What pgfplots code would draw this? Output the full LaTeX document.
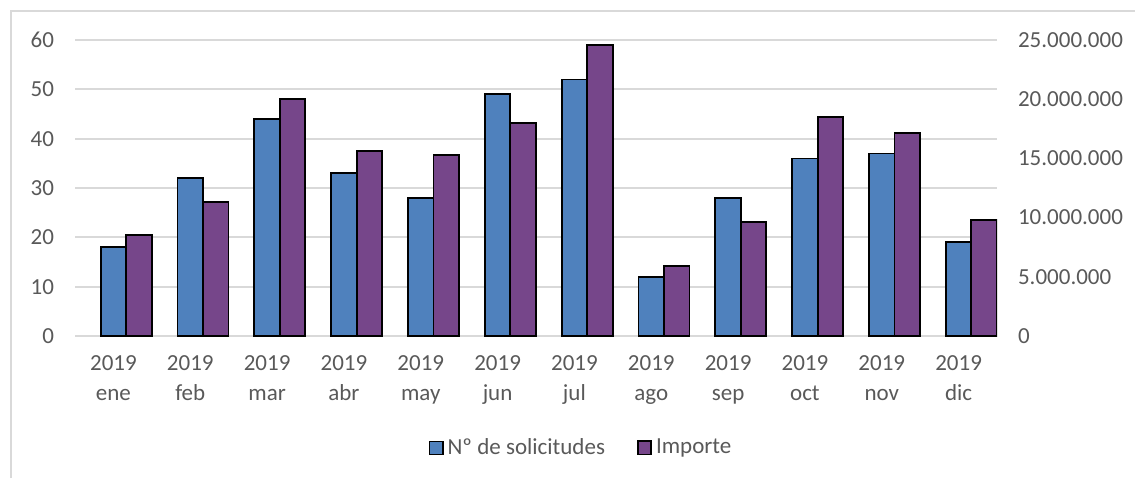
\documentclass[border=0pt]{standalone}
\usepackage{pgfplots}
\pgfplotsset{compat=1.18}
\usepackage{fontspec}
\setmainfont{Carlito}

\definecolor{txt}{HTML}{595959}
\definecolor{gridc}{HTML}{D9D9D9}
\definecolor{solblue}{HTML}{4F81BD}
\definecolor{imppurple}{HTML}{76468A}

\pgfplotsset{
  base/.style={
    scale only axis, width=461pt, height=148pt,
    xmin=-0.5, xmax=11.5, ymin=0,
    axis line style={draw=none},
    major tick length=0pt,
    tick label style={font=\fontsize{11.5}{15}\selectfont, text=txt},
    /pgf/number format/assume math mode=true,
    ybar, bar width=0.332,
  },
  sq/.style={legend image code/.code={\draw[##1] (0pt,-3.3pt) rectangle (6.6pt,3.3pt);}},
}

\begin{document}
\begin{tikzpicture}
\useasboundingbox (-37.5pt,-71pt) rectangle (530pt,168pt);
\draw[gridc, line width=0.75pt] (-32pt,-71pt) -- (-32pt,162.5pt) -- (530pt,162.5pt);

% eje izquierdo: numero de solicitudes
\begin{axis}[base,
  ymax=60, ytick={0,10,...,60},
  ymajorgrids, grid style={gridc, line width=0.9pt},
  xtick={0,...,11},
  xticklabels={{2019\\ene},{2019\\feb},{2019\\mar},{2019\\abr},{2019\\may},{2019\\jun},
               {2019\\jul},{2019\\ago},{2019\\sep},{2019\\oct},{2019\\nov},{2019\\dic}},
  x tick label style={align=center, yshift=-6.5pt},
  y tick label style={xshift=-7pt},
]
\addplot[fill=solblue, draw=black, line width=0.9pt, bar shift=0] coordinates {
  (0,18) (1,32) (2,44) (3,33) (4,28) (5,49)
  (6,52) (7,12) (8,28) (9,36) (10,37) (11,19)};
\end{axis}

% eje derecho: importe
\begin{axis}[base,
  ymax=25000000, ytick={0,5000000,...,25000000},
  axis y line*=right, xtick=\empty,
  scaled y ticks=false,
  y tick label style={xshift=7pt, /pgf/number format/.cd, fixed, 1000 sep={.}},
  legend style={at={(0.55,-0.378)}, anchor=center, draw=none, fill=none,
    legend columns=2, font=\fontsize{11.5}{14}\selectfont, text=txt},
]
\addlegendimage{sq, fill=solblue, draw=black, line width=0.75pt}
\addlegendentry{Nº de solicitudes\kern14pt}
\addplot[sq, fill=imppurple, draw=black, line width=0.9pt, bar shift=0.332] coordinates {
  (0,8530000) (1,11340000) (2,20000000) (3,15650000) (4,15260000) (5,17990000)
  (6,24580000) (7,5880000) (8,9650000) (9,18500000) (10,17150000) (11,9800000)};
\addlegendentry{Importe}
\end{axis}
\end{tikzpicture}
\end{document}
